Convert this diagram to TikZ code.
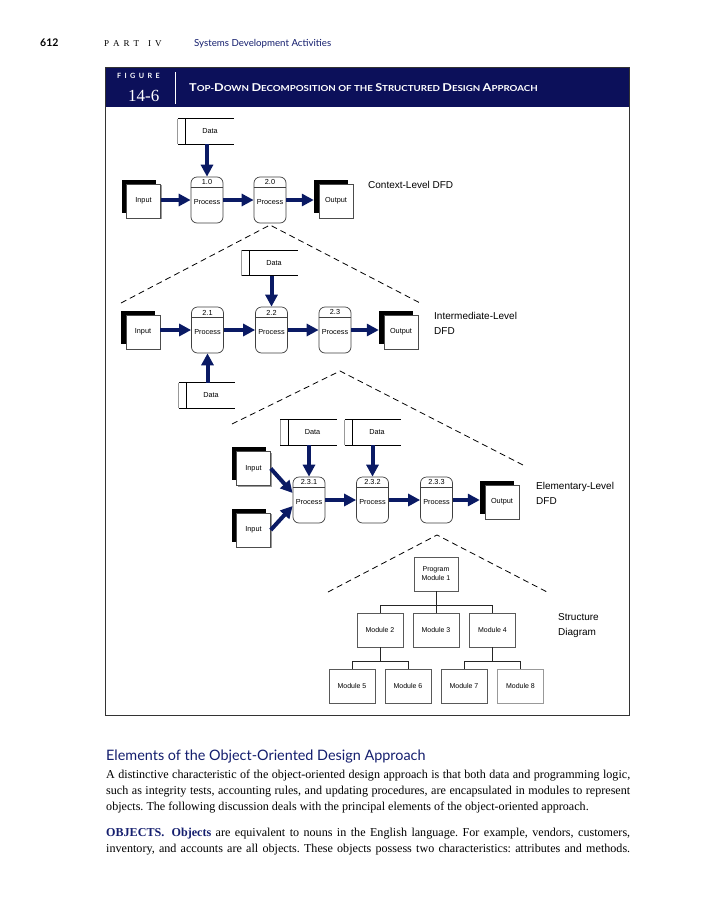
\documentclass[tikz,border=0pt]{standalone}
\usepackage{fontspec}
\setmainfont{Liberation Serif}
\newfontfamily\hv{Liberation Sans}
\newfontfamily\gs{Lato}
\usetikzlibrary{arrows.meta,calc}
\definecolor{navy}{RGB}{12,16,90}
\definecolor{arrowblue}{RGB}{10,26,100}
\definecolor{headblue}{RGB}{20,30,110}

\newcommand\procbox[4]{%
  \node[procs] (#1) at (#2,#3) {};
  \draw[black!75, line width=0.6pt] ([yshift=-11pt]#1.north west) -- ([yshift=-11pt]#1.north east);
  \node[lbl] (#1n) at ([yshift=-5.8pt]#1.north) {#4};
  \node[lbl] (#1t) at ([yshift=-2pt]#1.center) {Process};
}
\newcommand\entity[4]{%
  \node[shadowbox] (#1s) at (#2-5,#3-5) {};
  \node[greybox] (#1g) at (#2+1,#3+1) {};
  \node[front] (#1) at (#2,#3) {#4};
}
\newcommand\store[3]{%
  \node[storebox] (#1) at (#2,#3) {};
  \draw[black!40, line width=1pt] (#1.north west) -- (#1.south west);
  \draw[black, line width=0.7pt] (#1.north west) -- (#1.north east)
     (#1.south west) -- (#1.south east)
     ([xshift=8pt]#1.north west) -- ([xshift=8pt]#1.south west);
  \node[lbl] (#1t) at ([xshift=4pt]#1.center) {Data};
}
\newcommand\BL[1]{{\fontsize{10.8}{11}\selectfont #1}}

\begin{document}
\frenchspacing
\begin{tikzpicture}[x=1pt,y=-1pt,
  lbl/.style={font=\hv\fontsize{7.3}{8}\selectfont, inner sep=0pt},
  procs/.style={draw=black!75, line width=0.7pt, rounded corners=6pt, minimum width=32pt, minimum height=46pt, inner sep=0pt, fill=white},
  front/.style={draw=black!70, line width=0.5pt, fill=white, minimum width=34pt, minimum height=34pt, inner sep=0pt, font=\hv\fontsize{7.3}{8}\selectfont},
  greybox/.style={fill=black!40, minimum width=34pt, minimum height=34pt, inner sep=0pt},
  shadowbox/.style={fill=black, minimum width=34pt, minimum height=33pt, inner sep=0pt},
  storebox/.style={minimum width=56pt, minimum height=25pt, inner sep=0pt},
  flow/.style={draw=arrowblue, line width=4pt, -{Triangle[length=12pt,width=12pt]}},
  guide/.style={draw=black, line width=0.8pt, dash pattern=on 6pt off 4pt},
  modbox/.style={draw=black!65, line width=0.6pt, fill=white, minimum width=46pt, minimum height=34pt, inner sep=0pt, align=center, font=\hv\fontsize{7}{9}\selectfont},
  tree/.style={draw=black!85, line width=1pt},
  side/.style={font=\hv\fontsize{10}{14.5}\selectfont, anchor=north west, inner sep=0pt, align=left},
  body/.style={font=\fontsize{12.1}{16}\selectfont, inner sep=0pt, anchor=base west},
]
\fill[white] (0,0) rectangle (719,900);
\useasboundingbox (0,0) rectangle (719,900);

% page header
\node[font=\gs\bfseries\fontsize{10.5}{12}\selectfont, anchor=base west, inner sep=0pt] (pgno) at (40,46) {612};
\node[font=\fontsize{9}{10}\selectfont, anchor=base west, inner sep=0pt] (part) at (104,46) {P\hspace{4pt}A\hspace{4pt}R\hspace{4pt}T\hspace{9pt}I\hspace{4pt}V};
\node[font=\gs\fontsize{9.7}{11}\selectfont, text=headblue, anchor=base west, inner sep=0pt] (chap) at (194,46) {Systems Development Activities};

% figure frame and band
\fill[navy] (105,67) rectangle (629,107);
\draw[black!80, line width=0.8pt] (105,67) rectangle (629,715);
\node[font=\gs\bfseries\fontsize{7.2}{8}\selectfont, text=white, anchor=base west, inner sep=0pt] (figw) at (117,78) {F\hspace{3.4pt}I\hspace{3.4pt}G\hspace{3.4pt}U\hspace{3.4pt}R\hspace{3.4pt}E};
\node[font=\fontsize{17}{18}\selectfont, text=white, anchor=base west, inner sep=0pt] (fign) at (128,101) {14-6};
\draw[white, line width=0.8pt] (175,72) -- (175,104);
\node[font=\gs\bfseries\fontsize{8.3}{9}\selectfont, text=white, anchor=base west, inner sep=0pt] (title) at (189,91.5)
  {\scalebox{1.17}[1]{\BL{T}OP-\BL{D}OWN \BL{D}ECOMPOSITION OF THE \BL{S}TRUCTURED \BL{D}ESIGN \BL{A}PPROACH}};

% ---------- context level
\store{d1}{206}{131.5}
\procbox{p1}{207}{200}{1.0}
\procbox{p2}{270}{200}{2.0}
\entity{in1}{143.5}{201}{Input}
\entity{out1}{336}{201}{Output}
\draw[flow] (p1 |- d1.south) -- (p1.north);
\draw[flow] (p1.west -| in1.east) -- (p1.west);
\draw[flow] (p1.east) -- (p2.west);
\draw[flow] (p2.east) -- (p2.east -| out1s.west);
\node[side] (lab1) at (368,181.5) {Context-Level DFD};

\coordinate (g1a) at (121,303);
\coordinate (g1t) at (270,225);
\coordinate (g1b) at (422,304);
\draw[guide] (g1a) -- (g1t) -- (g1b);

% ---------- intermediate level
\store{d2}{270}{263}
\store{d3}{207}{395.5}
\procbox{p21}{207.5}{330}{2.1}
\procbox{p22}{271.5}{330}{2.2}
\procbox{p23}{335}{330}{2.3}
\entity{in2}{143}{332}{Input}
\entity{out2}{401}{332}{Output}
\draw[flow] (p22 |- d2.south) -- (p22.north);
\draw[flow] (p21 |- d3.north) -- (p21.south);
\draw[flow] (p21.west -| in2.east) -- (p21.west);
\draw[flow] (p21.east) -- (p22.west);
\draw[flow] (p22.east) -- (p23.west);
\draw[flow] (p23.east) -- (p23.east -| out2s.west);
\node[side] (lab2) at (434,312.5) {Intermediate-Level\\DFD};

\coordinate (g2a) at (232,424);
\coordinate (g2t) at (340,371);
\coordinate (g2b) at (523,465);
\draw[guide] (g2a) -- (g2t) -- (g2b);

% ---------- elementary level
\store{d4}{308.5}{432.5}
\store{d5}{373}{432.5}
\procbox{p231}{309}{500}{2.3.1}
\procbox{p232}{372.5}{500}{2.3.2}
\procbox{p233}{436.5}{500}{2.3.3}
\entity{in3}{253.5}{468.5}{Input}
\entity{in4}{253.5}{530}{Input}
\entity{out3}{502}{502}{Output}
\draw[flow] (p231 |- d4.south) -- (p231.north);
\draw[flow] (p232 |- d5.south) -- (p232.north);
\draw[flow] (in3.east) -- ([yshift=7pt]p231.west);
\draw[flow] (in4.east) -- ([yshift=-6pt]p231.west);
\draw[flow] (p231.east) -- (p232.west);
\draw[flow] (p232.east) -- (p233.west);
\draw[flow] (p233.east) -- (p233.east -| out3s.west);
\node[side] (lab3) at (536,482.5) {Elementary-Level\\DFD};

\coordinate (g3a) at (328,592);
\coordinate (g3t) at (437,535);
\coordinate (g3b) at (549,593);
\draw[guide] (g3a) -- (g3t) -- (g3b);

% ---------- structure diagram
\node[modbox, minimum width=44pt] (pm1) at (436,574) {Program\\Module 1};
\node[modbox] (m2) at (380,630) {Module 2};
\node[modbox] (m3) at (436,630) {Module 3};
\node[modbox] (m4) at (492.5,630) {Module 4};
\node[modbox] (m5) at (352,686) {Module 5};
\node[modbox] (m6) at (408,686) {Module 6};
\node[modbox] (m7) at (464,686) {Module 7};
\node[modbox, draw=black!40] (m8) at (520.5,686) {Module 8};
\coordinate (bus1) at (436,605);
\coordinate (bus2) at (436,661);
\draw[tree] (pm1.south) -- (pm1.south |- bus1);
\draw[tree] (m2.north) -- (m2.north |- bus1) -- (m4.north |- bus1) -- (m4.north);
\draw[tree] (m3.north) -- (m3.north |- bus1);
\draw[tree] (m2.south) -- (m2.south |- bus2);
\draw[tree] (m5.north) -- (m5.north |- bus2) -- (m6.north |- bus2) -- (m6.north);
\draw[tree] (m4.south) -- (m4.south |- bus2);
\draw[tree] (m7.north) -- (m7.north |- bus2) -- (m8.north |- bus2) -- (m8.north);
\node[side] (lab4) at (558,613.5) {Structure\\Diagram};

% ---------- text below
\node[font=\gs\fontsize{14.4}{17}\selectfont, text=headblue, anchor=base west, inner sep=0pt] (head) at (106,760) {Elements of the Object-Oriented Design Approach};
\node[body] (t1) at (106,778.5) {\makebox[524pt][s]{A distinctive characteristic of the object-oriented design approach is that both data and programming logic,}};
\node[body] (t2) at (106,794.5) {\makebox[524pt][s]{such as integrity tests, accounting rules, and updating procedures, are encapsulated in modules to represent}};
\node[body] (t3) at (106,810.5) {objects. The following discussion deals with the principal elements of the object-oriented approach.};
\node[body] (t4) at (106,836.5) {\makebox[524pt][s]{{\color{headblue}\bfseries OBJECTS.}\hspace{0.6em}{\color{headblue}\bfseries Objects} are equivalent to nouns in the English language. For example, vendors, customers,}};
\node[body] (t5) at (106,852.5) {\makebox[524pt][s]{inventory, and accounts are all objects. These objects possess two characteristics: attributes and methods.}};
\end{tikzpicture}
\end{document}
